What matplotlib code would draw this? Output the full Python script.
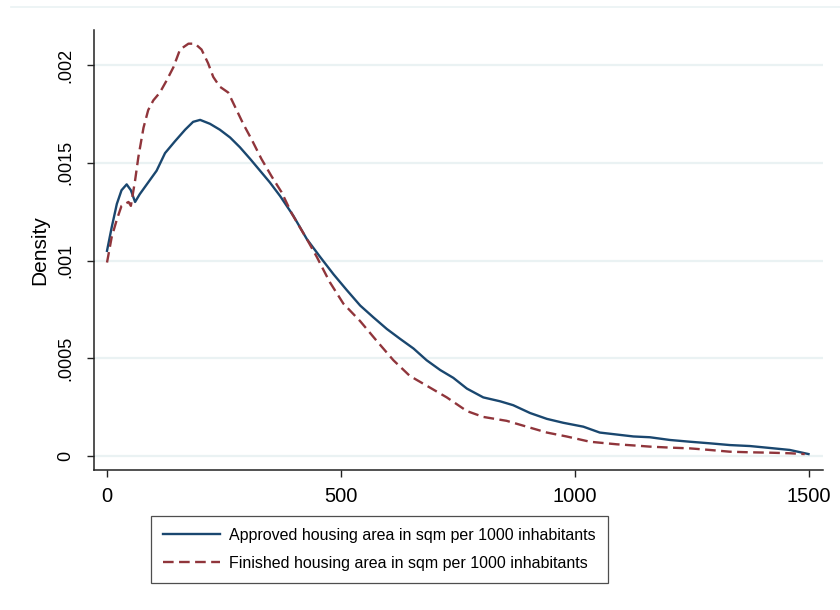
import matplotlib
matplotlib.use('Agg')
import matplotlib.pyplot as plt
from matplotlib.lines import Line2D

plt.rcParams['font.family'] = ['Liberation Sans', 'DejaVu Sans']

# Kernel density curves
approved_x = [0, 10, 21, 31, 42, 51, 60, 70, 88, 106, 124, 145, 167, 184, 199, 220,
              241, 263, 284, 306, 327, 348, 370, 398, 427, 455, 484, 512, 541, 569,
              598, 626, 655, 683, 712, 740, 769, 804, 840, 868, 904, 940, 975, 1018,
              1053, 1089, 1125, 1160, 1203, 1246, 1288, 1331, 1374, 1417, 1459, 1499]
approved_y = [0.00105, 0.00117, 0.00129, 0.00136, 0.00139, 0.00136, 0.00130, 0.00134,
              0.00140, 0.00146, 0.00155, 0.00161, 0.00167, 0.00171, 0.00172, 0.00170,
              0.00167, 0.00163, 0.00158, 0.00152, 0.00146, 0.00140, 0.00133, 0.00123,
              0.00111, 0.00102, 0.00093, 0.00085, 0.00077, 0.00071, 0.00065, 0.00060,
              0.00055, 0.00049, 0.00044, 0.00040, 0.000345, 0.00030, 0.00028, 0.00026,
              0.00022, 0.00019, 0.00017, 0.00015, 0.00012, 0.00011, 0.00010, 0.000096,
              0.000082, 0.000073, 0.000065, 0.000056, 0.000051, 0.000041, 0.000031, 0.00001]

finished_x = [0, 10, 21, 31, 46, 51, 60, 67, 78, 88, 99, 113, 127, 142, 156, 174, 188,
              202, 216, 227, 241, 259, 273, 291, 309, 330, 352, 373, 395, 427, 448, 476,
              505, 541, 576, 612, 647, 683, 726, 769, 804, 854, 897, 940, 982, 1032,
              1089, 1132, 1160, 1203, 1246, 1288, 1331, 1374, 1417, 1459, 1491]
finished_y = [0.00099, 0.00112, 0.00121, 0.00128, 0.00130, 0.00128, 0.00141, 0.00153,
              0.00168, 0.00177, 0.00182, 0.00186, 0.00192, 0.00199, 0.00208, 0.00211,
              0.00211, 0.00208, 0.00201, 0.00194, 0.00189, 0.00186, 0.00179, 0.00170,
              0.00162, 0.00152, 0.00143, 0.00135, 0.00124, 0.00111, 0.00102, 0.00089,
              0.00078, 0.00069, 0.00059, 0.00049, 0.00041, 0.00036, 0.00030, 0.00023,
              0.00020, 0.00018, 0.00015, 0.00012, 0.00010, 0.000073, 0.00006, 0.000053,
              0.000048, 0.000043, 0.000039, 0.000031, 0.000022, 0.000019, 0.000017,
              0.000014, 0.00001]

x_ticks = [0, 500, 1000, 1500]
y_ticks = [0, 0.0005, 0.001, 0.0015, 0.002]
y_ticklabels = ['0', '.0005', '.001', '.0015', '.002']
labels = ['Approved housing area in sqm per 1000 inhabitants',
          'Finished housing area in sqm per 1000 inhabitants']

blue = '#1a476f'
red = '#90353b'
grid = '#eaf2f3'

fig = plt.figure(figsize=(8.4, 6.1), dpi=100)
ax = fig.add_axes([94/840, 1 - 470/610, (823 - 94)/840, (470 - 30)/610])

for yt in y_ticks:
    ax.axhline(yt, color=grid, lw=1.6, zorder=0)

ax.plot(approved_x, approved_y, color=blue, lw=1.7, label=labels[0])
ax.plot(finished_x, finished_y, color=red, lw=1.7, dashes=[4.5, 2.3], label=labels[1])

ax.set_xlim(-27.8, 1530)
ax.set_ylim(-0.0000716, 0.00218)

for s in ['top', 'right']:
    ax.spines[s].set_visible(False)
for s in ['left', 'bottom']:
    ax.spines[s].set_color('#222222')
    ax.spines[s].set_linewidth(1.1)

ax.set_xticks(x_ticks)
ax.set_xticklabels([str(v) for v in x_ticks])
ax.set_yticks(y_ticks)
ax.set_yticklabels(y_ticklabels, rotation=90, va='center')
ax.tick_params(axis='x', length=5, width=1, color='#222222', labelsize=14.5, pad=7)
ax.tick_params(axis='y', length=5, width=1, color='#222222', labelsize=13, pad=9)

ax.set_ylabel('Density', fontsize=15, labelpad=6)

leg = ax.legend(loc='upper left', bbox_to_anchor=(151/840, 1 - 516/610),
                bbox_transform=fig.transFigure, ncol=1, fontsize=11.5,
                frameon=True, fancybox=False, handlelength=3.6, handletextpad=0.55,
                borderpad=0.75, labelspacing=0.8, borderaxespad=0)
leg.get_frame().set_edgecolor('#222222')
leg.get_frame().set_linewidth(0.9)

# faint outer border line at the top of the graph region
fig.add_artist(Line2D([11/840, 1], [1 - 7/610, 1 - 7/610], color=grid, lw=1.2,
                      transform=fig.transFigure))

fig.savefig('out.png', dpi=100)
